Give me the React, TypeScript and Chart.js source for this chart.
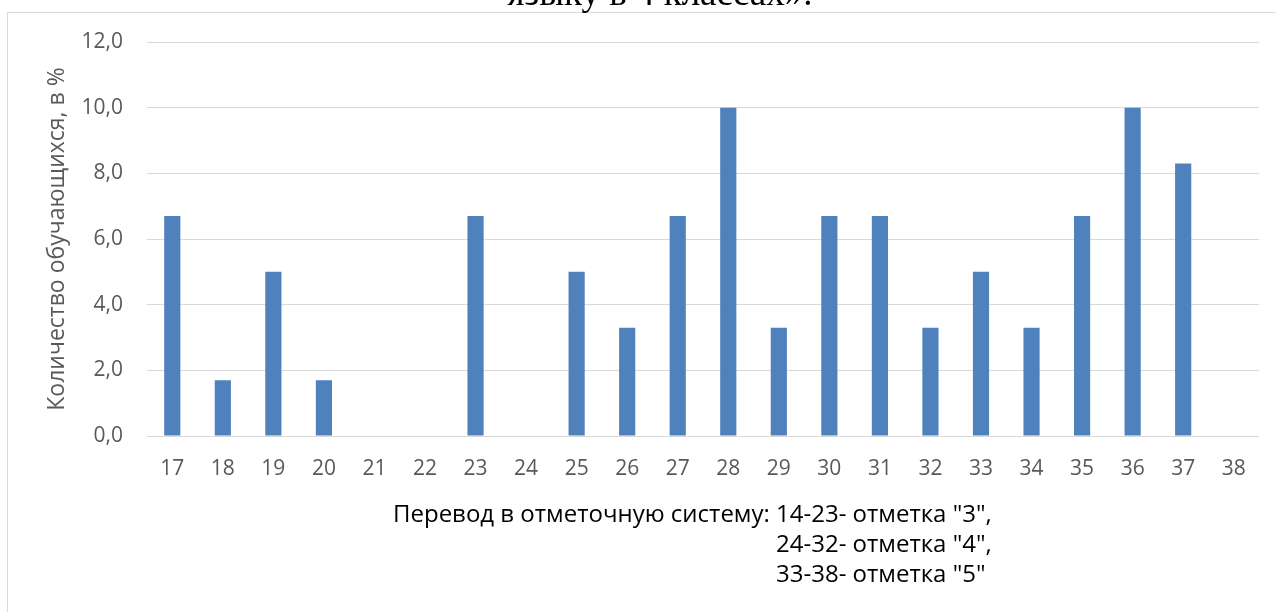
import React, { useEffect, useRef } from "react";
import { Chart, registerables } from "chart.js";

Chart.register(...registerables);

const categories: string[] = [
  "17", "18", "19", "20", "21", "22", "23", "24", "25", "26", "27",
  "28", "29", "30", "31", "32", "33", "34", "35", "36", "37", "38",
];
const percentValues: number[] = [
  6.7, 1.7, 5.0, 1.7, 0, 0, 6.7, 0, 5.0, 3.3, 6.7,
  10.0, 3.3, 6.7, 6.7, 3.3, 5.0, 3.3, 6.7, 10.0, 8.3, 0,
];
const yAxisTitle = "Количество обучающихся, в %";
const topTitle = "языку в 4 классах».";
const noteLines: string[] = [
  "Перевод в отметочную систему: 14-23- отметка \"3\",",
  "24-32- отметка \"4\",",
  "33-38- отметка \"5\"",
];

const FONT = '"Open Sans", "Noto Sans", sans-serif';

export default function App() {
  const ref = useRef<HTMLCanvasElement | null>(null);

  useEffect(() => {
    if (!ref.current) return;
    const decor = {
      id: "decor",
      beforeDraw(chart: any) {
        const ctx = chart.ctx;
        ctx.save();
        ctx.strokeStyle = "#D9D9D9";
        ctx.lineWidth = 1;
        ctx.strokeRect(7.5, 12.5, 1400, 700);
        ctx.restore();
      },
      afterDraw(chart: any) {
        const ctx = chart.ctx;
        const area = chart.chartArea;
        ctx.save();
        ctx.fillStyle = "#000000";
        ctx.font = '37px "Liberation Serif", serif';
        ctx.textAlign = "center";
        ctx.textBaseline = "alphabetic";
        ctx.fillText(topTitle, 660, 5);

        ctx.font = "24px " + FONT;
        ctx.textAlign = "left";
        const x1 = 393;
        ctx.fillText(noteLines[0], x1, area.bottom + 86);
        const prefix = "Перевод в отметочную систему: ";
        const x2 = x1 + ctx.measureText(prefix).width;
        ctx.fillText(noteLines[1], x2, area.bottom + 116);
        ctx.fillText(noteLines[2], x2, area.bottom + 146);
        ctx.restore();
      },
    };

    const chart = new Chart(ref.current, {
      type: "bar",
      data: {
        labels: categories,
        datasets: [
          {
            data: percentValues,
            backgroundColor: "#4F81BD",
            borderWidth: 0,
            categoryPercentage: 1,
            barPercentage: 0.32,
          },
        ],
      },
      options: {
        responsive: false,
        animation: false,
        events: [],
        layout: { padding: { left: 0, right: 17, top: 42, bottom: 0 } },
        plugins: {
          legend: { display: false },
          tooltip: { enabled: false },
          title: { display: false },
        },
        scales: {
          x: {
            grid: { display: false, drawTicks: false },
            border: { display: false },
            ticks: {
              color: "#595959",
              font: { family: FONT, size: 21 },
              padding: 20,
              maxRotation: 0,
              autoSkip: false,
            },
            afterFit: (s: any) => {
              s.height = 176;
            },
          },
          y: {
            min: 0,
            max: 12,
            grid: { color: "#D9D9D9", lineWidth: 1, drawTicks: false },
            border: { display: false },
            ticks: {
              stepSize: 2,
              color: "#595959",
              font: { family: FONT, size: 21 },
              padding: 24,
              callback: (v: any) => Number(v).toFixed(1).replace(".", ","),
            },
            title: {
              display: true,
              text: yAxisTitle,
              color: "#595959",
              font: { family: FONT, size: 23 },
              padding: { top: 44, bottom: 0 },
            },
            afterFit: (s: any) => {
              s.width = 147;
            },
          },
        },
      },
      plugins: [decor],
    });
    return () => chart.destroy();
  }, []);

  return (
    <div style={{ position: "fixed", left: 0, top: 0, width: 1276, height: 612, background: "#fff" }}>
      <canvas ref={ref} width={1276} height={612} style={{ display: "block" }} />
    </div>
  );
}
